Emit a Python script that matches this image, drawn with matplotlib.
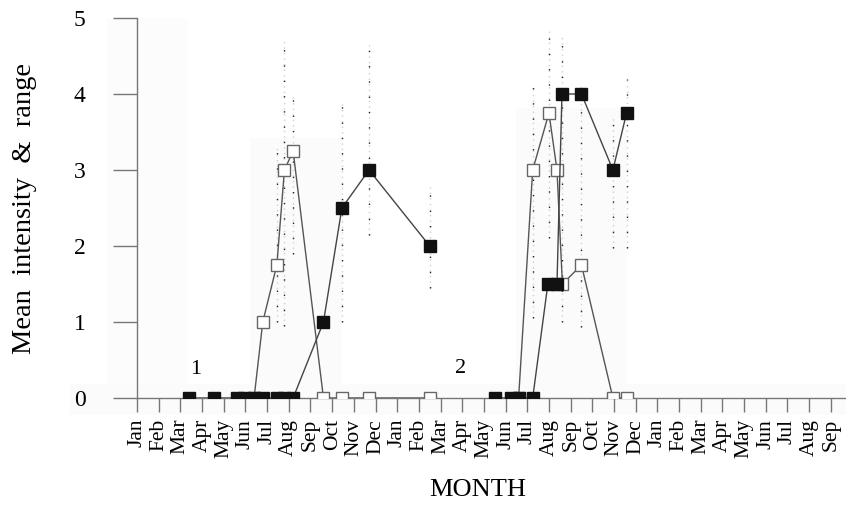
import matplotlib
matplotlib.use("Agg")
import matplotlib.pyplot as plt
from matplotlib.patches import Rectangle

## フォント設定
plt.rcParams['font.family'] = ['Liberation Serif', 'DejaVu Serif']

## 月ラベル（Jan 1年目 = 0）
months = ['Jan', 'Feb', 'Mar', 'Apr', 'May', 'Jun', 'Jul', 'Aug', 'Sep', 'Oct', 'Nov', 'Dec']
month_labels = months + months + months[:9]

## 黒四角（1年目・2年目）
black1_x = [2.4, 3.55, 4.6, 4.95, 5.4, 5.8, 6.45, 6.8, 7.2, 8.6, 9.45, 10.7, 13.5]
black1_y = [0, 0, 0, 0, 0, 0, 0, 0, 0, 1.0, 2.5, 3.0, 2.0]
black2_x = [16.5, 17.25, 17.6, 18.25, 18.95, 19.37, 19.6, 20.5, 21.95, 22.58]
black2_y = [0, 0, 0, 0, 1.5, 1.5, 4.0, 4.0, 3.0, 3.75]

## 白四角（1年目・2年目）
open1_x = [5.4, 5.8, 6.45, 6.8, 7.2, 8.6, 9.45, 10.7, 13.5]
open1_y = [0, 1.0, 1.75, 3.0, 3.25, 0, 0, 0, 0]
open2_x = [17.6, 18.25, 19.0, 19.37, 19.62, 20.5, 21.95, 22.58]
open2_y = [0, 3.0, 3.75, 3.0, 1.5, 1.75, 0, 0]

## 範囲（点線）
range_x = [6.45, 6.8, 7.2, 9.45, 10.7, 13.5, 18.25, 19.0, 19.6, 20.5, 21.95, 22.58]
range_lo = [1.0, 0.95, 1.9, 1.0, 2.15, 1.45, 1.05, 2.1, 1.0, 0.93, 1.97, 1.97]
range_hi = [3.3, 4.7, 4.0, 3.9, 4.7, 2.8, 4.1, 4.87, 4.75, 4.15, 3.7, 4.2]

## 年の番号
year_x = [2.72, 14.93]
year_y = [0.37, 0.39]
year_txt = ['1', '2']

fig = plt.figure(figsize=(8.46, 5.15), dpi=100)
ax = fig.add_axes([137 / 846, 117 / 515, 709 / 846, 380 / 515])
ax.set_xlim(0, 32.7)
ax.set_ylim(0, 5)

## スキャンのごく薄い灰色部分
for x0, x1, top in [(5.2, 9.45, 3.42), (17.5, 22.6, 3.82)]:
    ax.add_patch(Rectangle((x0, -0.22), x1 - x0, top + 0.22, color='#fbfbfb',
                           zorder=0, clip_on=False, lw=0))
ax.add_patch(Rectangle((-1.4, -0.22), 3.75, 5.22, color='#fcfcfc', zorder=0, clip_on=False, lw=0))
ax.add_patch(Rectangle((-3.1, -0.22), 36, 0.4, color='#fbfbfb', zorder=0, clip_on=False, lw=0))

## 範囲の点線
ax.vlines(range_x, range_lo, range_hi, colors='#cfcfcf', linestyles=(0, (1, 3)), lw=1.0, zorder=1)
ax.vlines(range_x, range_lo, range_hi, colors='#222222', linestyles=(0, (1, 10)), lw=1.0, zorder=1)

## 白四角の系列
for xs, ys in [(open1_x, open1_y), (open2_x, open2_y)]:
    ax.plot(xs, ys, color='#555555', lw=1.0, marker='s', ms=8, mfc='white',
            mec='#666666', mew=1.0, zorder=3)

## 黒四角の系列
for xs, ys in [(black1_x, black1_y), (black2_x, black2_y)]:
    ax.plot(xs, ys, color='#444444', lw=1.0, marker='s', ms=8.5, mfc='#111111',
            mec='#111111', zorder=4)

for x, y, t in zip(year_x, year_y, year_txt):
    ax.text(x, y, t, fontsize=16, ha='center', va='center')

## 軸の体裁
for s in ['top', 'right']:
    ax.spines[s].set_visible(False)
for s in ['left', 'bottom']:
    ax.spines[s].set_color('#777777')
    ax.spines[s].set_linewidth(1.0)

ax.set_xticks(range(len(month_labels)))
ax.set_xticklabels(month_labels, rotation=90, fontsize=15.5)
ax.set_yticks(range(6))
ax.set_yticklabels([str(i) for i in range(6)], fontsize=17)
ax.tick_params(axis='x', direction='out', length=10, width=1.0, color='#777777', pad=5)
ax.tick_params(axis='y', direction='out', length=17, width=1.0, color='#777777', pad=20)

fig.text(25 / 846, 0.596, 'Mean  intensity  &  range', rotation=90, fontsize=20.5,
         ha='center', va='center')
fig.text(478 / 846, 1 - 490 / 515, 'MONTH', fontsize=19, ha='center', va='center')

fig.savefig('out.png', dpi=100)
